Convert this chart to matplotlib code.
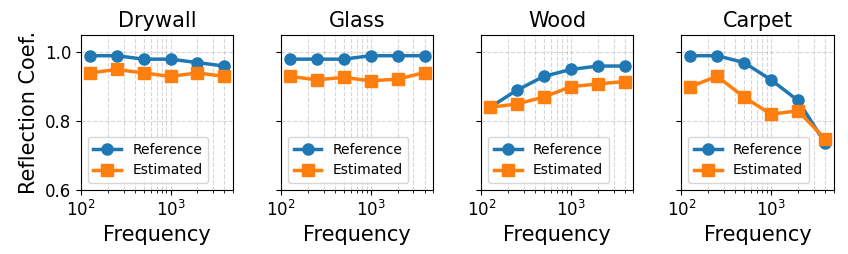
import matplotlib
matplotlib.use("Agg")
import matplotlib.pyplot as plt
import numpy as np

# octave band centres (Hz)
freqs = [125, 250, 500, 1000, 2000, 4000]
materials = ["Drywall", "Glass", "Wood", "Carpet"]

drywall_ref = [0.99, 0.99, 0.98, 0.98, 0.97, 0.96]
drywall_est = [0.94, 0.95, 0.94, 0.93, 0.94, 0.93]
glass_ref = [0.98, 0.98, 0.98, 0.99, 0.99, 0.99]
glass_est = [0.93, 0.92, 0.927, 0.917, 0.922, 0.941]
wood_ref = [0.84, 0.89, 0.93, 0.95, 0.96, 0.96]
wood_est = [0.84, 0.85, 0.87, 0.90, 0.908, 0.915]
carpet_ref = [0.99, 0.99, 0.97, 0.92, 0.86, 0.737]
carpet_est = [0.90, 0.93, 0.87, 0.82, 0.83, 0.749]

refs = [drywall_ref, glass_ref, wood_ref, carpet_ref]
ests = [drywall_est, glass_est, wood_est, carpet_est]

fig, axes = plt.subplots(1, 4, figsize=(8.48, 2.54), dpi=100, sharey=True)
fig.subplots_adjust(left=0.0955, right=0.983, bottom=0.252, top=0.862, wspace=0.316)

for i, ax in enumerate(axes):
    ax.plot(freqs, refs[i], marker="o", color="#1f77b4", lw=2.5, ms=8, label="Reference")
    ax.plot(freqs, ests[i], marker="s", color="#ff7f0e", lw=2.5, ms=8, label="Estimated")
    ax.set_xscale("log")
    ax.set_xlim(100, 5000)
    ax.set_ylim(0.6, 1.05)
    ax.set_yticks([0.6, 0.8, 1.0])
    ax.grid(True, which="both", ls="--", alpha=0.5)
    ax.set_title(materials[i], fontsize=15)
    ax.set_xlabel("Frequency", fontsize=15)
    ax.tick_params(labelsize=12)
    ax.legend(loc="lower left", fontsize=10)

axes[0].set_ylabel("Reflection Coef.", fontsize=15)

fig.savefig("out.png", dpi=100)
